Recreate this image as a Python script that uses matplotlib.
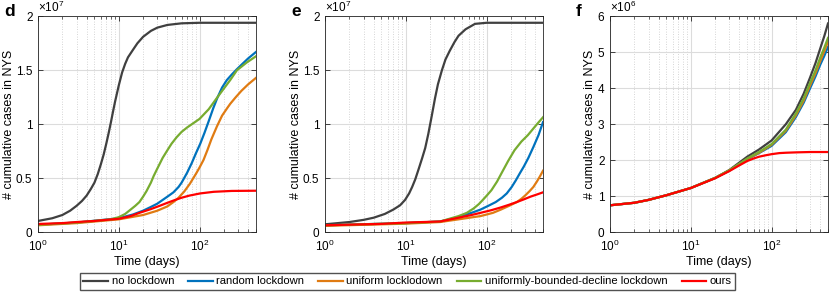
import matplotlib
matplotlib.use("Agg")
import matplotlib.pyplot as plt
from matplotlib.ticker import LogLocator, NullFormatter, MultipleLocator

plt.rcParams["font.family"] = ["Liberation Sans", "DejaVu Sans"]
plt.rcParams["mathtext.fontset"] = "custom"
plt.rcParams["mathtext.rm"] = "Liberation Sans"
plt.rcParams["mathtext.it"] = "Liberation Sans"
plt.rcParams["font.size"] = 8.5

labels = ["no lockdown", "random lockdown", "uniform locklodown",
          "uniformly-bounded-decline lockdown", "ours"]
colors = ["#404040", "#0072BD", "#E07B12", "#77AC30", "#FF0000"]

# panel d (x1e7)
d_none_t = [1, 1.5, 2, 2.5, 3, 3.5, 4, 4.5, 5, 5.5, 6, 6.5, 7, 7.5, 8, 8.5, 9, 10,
            11, 12, 13, 15, 17, 20, 25, 30, 40, 60, 100, 500]
d_none_v = [0.105, 0.13, 0.16, 0.2, 0.245, 0.29, 0.34, 0.4, 0.46, 0.54, 0.63, 0.72,
            0.82, 0.92, 1.02, 1.12, 1.21, 1.36, 1.48, 1.56, 1.62, 1.69, 1.75, 1.81,
            1.865, 1.895, 1.92, 1.935, 1.94, 1.94]
d_rand_t = [1, 3, 10, 15, 20, 25, 30, 35, 40, 47.5, 55, 60, 70, 80, 90, 102, 115,
            130, 148, 165, 190, 218, 250, 290, 340, 400, 500]
d_rand_v = [0.07, 0.09, 0.13, 0.165, 0.2, 0.235, 0.265, 0.3, 0.33, 0.37, 0.42, 0.46,
            0.55, 0.64, 0.73, 0.82, 0.92, 1.03, 1.15, 1.24, 1.34, 1.41, 1.46, 1.51,
            1.56, 1.61, 1.67]
d_unif_t = [1, 3, 10, 20, 30, 40, 47.5, 55, 65, 76, 90, 100, 112, 125, 140, 164, 190,
            220, 240, 280, 330, 400, 500]
d_unif_v = [0.065, 0.085, 0.12, 0.16, 0.2, 0.24, 0.28, 0.32, 0.38, 0.45, 0.54, 0.6,
            0.67, 0.76, 0.86, 0.98, 1.08, 1.15, 1.19, 1.25, 1.31, 1.37, 1.43]
d_ubd_t = [1, 3, 8, 10, 12, 14, 16, 18, 20, 22, 25, 27, 30, 35, 40, 45, 52, 60, 70,
           80, 100, 130, 170, 240, 290, 380, 500]
d_ubd_v = [0.07, 0.09, 0.12, 0.14, 0.17, 0.21, 0.245, 0.28, 0.33, 0.38, 0.46, 0.52,
           0.59, 0.69, 0.76, 0.82, 0.88, 0.93, 0.97, 1.0, 1.05, 1.14, 1.26, 1.41,
           1.5, 1.57, 1.63]
d_ours_t = [1, 2, 3, 5, 7, 10, 14, 18, 25, 32, 39, 50, 60, 75, 102, 150, 250, 500]
d_ours_v = [0.077, 0.085, 0.095, 0.105, 0.115, 0.125, 0.15, 0.18, 0.215, 0.245,
            0.27, 0.3, 0.32, 0.34, 0.36, 0.375, 0.383, 0.385]

# panel e (x1e7)
e_none_t = [1, 2, 3, 4, 5.5, 7, 8.5, 9.8, 11, 12, 13.1, 14.5, 16, 17.4, 19, 21, 23,
            25, 28, 31, 35, 40, 45, 55, 72, 100, 500]
e_none_v = [0.074, 0.095, 0.115, 0.135, 0.17, 0.21, 0.25, 0.3, 0.36, 0.42, 0.49,
            0.59, 0.69, 0.78, 0.91, 1.08, 1.24, 1.37, 1.5, 1.6, 1.68, 1.76, 1.82,
            1.88, 1.93, 1.94, 1.94]
e_rand_t = [1, 10, 26.6, 45, 65, 84, 105, 130, 155, 178, 205, 230, 260, 290, 330,
            380, 440, 500]
e_rand_v = [0.065, 0.085, 0.1, 0.14, 0.18, 0.21, 0.245, 0.28, 0.32, 0.36, 0.42,
            0.48, 0.55, 0.61, 0.69, 0.79, 0.9, 1.02]
e_unif_t = [1, 10, 26.6, 45, 84, 120, 150, 190, 237, 270, 300, 340, 380, 420, 460, 500]
e_unif_v = [0.06, 0.08, 0.095, 0.12, 0.15, 0.18, 0.21, 0.245, 0.28, 0.31, 0.34,
            0.38, 0.42, 0.47, 0.52, 0.57]
e_ubd_t = [1, 10, 26.6, 45, 57, 69, 80, 90, 102, 115, 135, 154, 185, 222, 270, 325,
           420, 500]
e_ubd_v = [0.065, 0.085, 0.1, 0.15, 0.18, 0.22, 0.26, 0.3, 0.345, 0.39, 0.47, 0.55,
           0.66, 0.76, 0.84, 0.9, 1.0, 1.065]
e_ours_t = [1, 5, 9.8, 18, 26.6, 45, 65, 84, 115, 150, 190, 237, 290, 350, 420, 500]
e_ours_v = [0.065, 0.078, 0.09, 0.096, 0.1, 0.135, 0.16, 0.18, 0.205, 0.23, 0.255,
            0.28, 0.305, 0.33, 0.35, 0.37]

# panel f (x1e6)
f_ours_t = [1, 2, 3, 5, 10, 20, 30, 40, 50, 60, 70, 85, 100, 125, 150, 200, 300, 500]
f_ours_v = [0.75, 0.82, 0.9, 1.03, 1.23, 1.5, 1.7, 1.86, 1.98, 2.05, 2.1, 2.14,
            2.17, 2.2, 2.21, 2.22, 2.23, 2.23]
f_none_t = [1, 2, 3, 5, 10, 20, 30, 50, 70, 100, 150, 200, 250, 300, 350, 400, 450, 500]
f_none_v = [0.75, 0.82, 0.9, 1.03, 1.23, 1.51, 1.73, 2.1, 2.3, 2.55, 3.0, 3.4, 3.85,
            4.3, 4.7, 5.1, 5.45, 5.8]
f_ubd_v = [0.75, 0.82, 0.9, 1.03, 1.23, 1.51, 1.72, 2.05, 2.23, 2.45, 2.85, 3.3,
           3.72, 4.15, 4.5, 4.85, 5.13, 5.4]
f_unif_v = [0.75, 0.82, 0.9, 1.03, 1.23, 1.51, 1.72, 2.04, 2.21, 2.43, 2.82, 3.25,
            3.66, 4.08, 4.42, 4.75, 5.03, 5.3]
f_rand_v = [0.75, 0.82, 0.9, 1.03, 1.23, 1.51, 1.71, 2.03, 2.2, 2.4, 2.78, 3.2,
            3.6, 4.0, 4.33, 4.65, 4.9, 5.15]

panels = [
    ("d", 7, 2, [(d_none_t, d_none_v), (d_rand_t, d_rand_v), (d_unif_t, d_unif_v),
                 (d_ubd_t, d_ubd_v), (d_ours_t, d_ours_v)]),
    ("e", 7, 2, [(e_none_t, e_none_v), (e_rand_t, e_rand_v), (e_unif_t, e_unif_v),
                 (e_ubd_t, e_ubd_v), (e_ours_t, e_ours_v)]),
    ("f", 6, 6, [(f_none_t, f_none_v), (f_none_t, f_rand_v), (f_none_t, f_unif_v),
                 (f_none_t, f_ubd_v), (f_ours_t, f_ours_v)]),
]
lefts = [38, 325, 610]

fig = plt.figure(figsize=(8.3, 2.94), dpi=100)
handles = []
for (letter, expo, ymax, series), left in zip(panels, lefts):
    ax = fig.add_axes([left / 830, 61.7 / 294, 218 / 830, 216 / 294])
    hs = []
    for (t, v), c, lab in zip(series, colors, labels):
        h, = ax.plot(t, v, color=c, lw=1.6, label=lab)
        hs.append(h)
    handles = hs
    ax.set_xscale("log")
    ax.set_xlim(1, 500)
    ax.set_ylim(0, ymax)
    if ymax == 2:
        ax.yaxis.set_major_locator(MultipleLocator(0.5))
    else:
        ax.yaxis.set_major_locator(MultipleLocator(1))
    ax.yaxis.set_major_formatter(plt.FuncFormatter(lambda y, p: f"{y:g}"))
    ax.xaxis.set_major_locator(LogLocator(base=10, numticks=10))
    ax.xaxis.set_minor_locator(LogLocator(base=10, subs=range(2, 10), numticks=20))
    ax.xaxis.set_minor_formatter(NullFormatter())
    ax.grid(True, which="major", color="#dcdcdc", lw=0.8)
    ax.grid(True, which="minor", axis="x", color="#c8c8c8", lw=0.6, ls=(0, (1, 2)))
    ax.set_axisbelow(True)
    ax.tick_params(which="both", direction="in", top=True, right=True,
                   colors="#262626", labelcolor="black", labelsize=8.5)
    ax.tick_params(which="major", length=3.5, width=0.6)
    ax.tick_params(axis="x", which="major", pad=5)
    ax.tick_params(axis="y", which="major", pad=4)
    ax.tick_params(which="minor", length=2, width=0.5)
    for s in ax.spines.values():
        s.set_color("#262626")
        s.set_linewidth(0.6)
    ax.set_xlabel("Time (days)", fontsize=9, labelpad=1)
    ax.set_ylabel("# cumulative cases in NYS", fontsize=9, labelpad=1)
    ax.text(0.0, 1.005, r"$\times10^{%d}$" % expo, transform=ax.transAxes,
            ha="left", va="bottom", fontsize=8.5)
    fig.text((left - 34) / 830, 1 - 11 / 294, letter, fontsize=12.5,
             fontweight="bold", ha="left", va="center")

fig.legend(handles, labels, loc="center", ncol=5,
           bbox_to_anchor=(407.5 / 830, 1 - 281.5 / 294), fontsize=8.1,
           frameon=True, fancybox=False, edgecolor="#262626", handlelength=2.2,
           handletextpad=0.3, columnspacing=1.25, borderpad=0.3, borderaxespad=0)

fig.savefig("out.png", dpi=100)
